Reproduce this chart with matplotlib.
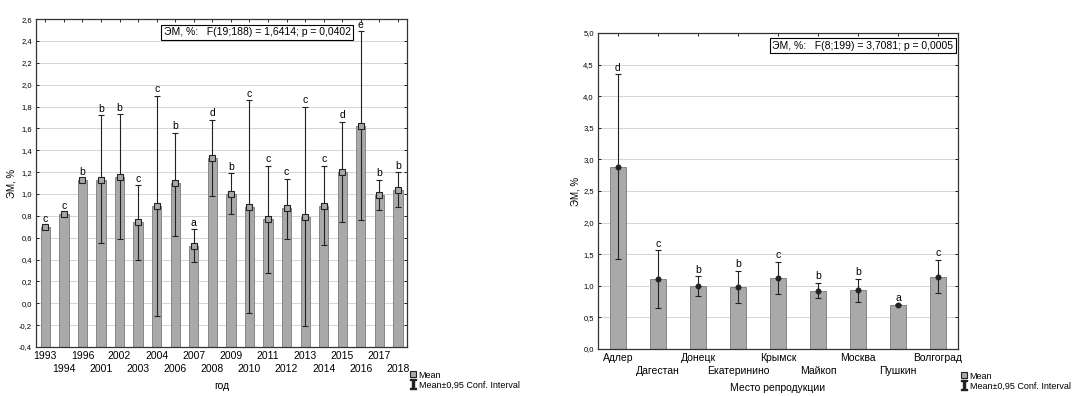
import numpy as np
import matplotlib
matplotlib.use('Agg')
import matplotlib.pyplot as plt
from matplotlib.lines import Line2D
from matplotlib.ticker import FuncFormatter

plt.rcParams['font.family'] = ['Liberation Sans Narrow', 'Liberation Sans', 'DejaVu Sans']

# left panel: by year
years = ['1993', '1994', '1996', '2001', '2002', '2003', '2004', '2006', '2007', '2008',
         '2009', '2010', '2011', '2012', '2013', '2014', '2015', '2016', '2017', '2018']
year_mean = [0.70, 0.82, 1.13, 1.13, 1.16, 0.74, 0.89, 1.10, 0.52, 1.33,
             1.00, 0.88, 0.77, 0.87, 0.79, 0.89, 1.20, 1.62, 0.99, 1.04]
year_lo = [0.69, 0.81, 1.12, 0.55, 0.59, 0.40, -0.12, 0.62, 0.38, 0.98,
           0.82, -0.09, 0.28, 0.59, -0.21, 0.53, 0.74, 0.76, 0.85, 0.88]
year_hi = [0.71, 0.83, 1.14, 1.72, 1.73, 1.08, 1.90, 1.56, 0.68, 1.68,
           1.19, 1.86, 1.26, 1.14, 1.80, 1.26, 1.66, 2.49, 1.13, 1.20]
year_grp = ['c', 'c', 'b', 'b', 'b', 'c', 'c', 'b', 'a', 'd',
            'b', 'c', 'c', 'c', 'c', 'c', 'd', 'e', 'b', 'b']

# right panel: by place
places = ['Адлер', 'Дагестан', 'Донецк', 'Екатеринино', 'Крымск',
          'Майкоп', 'Москва', 'Пушкин', 'Волгоград']
place_mean = [2.88, 1.10, 0.99, 0.98, 1.13, 0.92, 0.93, 0.70, 1.14]
place_lo = [1.42, 0.65, 0.84, 0.72, 0.87, 0.80, 0.75, 0.69, 0.89]
place_hi = [4.35, 1.56, 1.15, 1.24, 1.38, 1.05, 1.11, 0.71, 1.41]
place_grp = ['d', 'c', 'b', 'b', 'c', 'b', 'b', 'a', 'c']

bar_c = '#a9a9a9'
edge_c = '#7a7a7a'
comma = FuncFormatter(lambda v, p: ('%.1f' % v).replace('.', ','))


def panel(ax, cats, mean, lo, hi, grp, ylim, ystep, width, marker, ms, mfc, stat, box_x, xlabel):
    x = np.arange(len(cats))
    mean = np.array(mean)
    ax.bar(x, mean - ylim[0], bottom=ylim[0], width=width, color=bar_c,
           edgecolor=edge_c, linewidth=0.6, zorder=2)
    err = [mean - np.array(lo), np.array(hi) - mean]
    ax.errorbar(x, mean, yerr=err, fmt='none', ecolor='#222222', elinewidth=0.8,
                capsize=2, capthick=0.8, zorder=3)
    ax.plot(x, mean, ls='none', marker=marker, ms=ms, mfc=mfc, mec='#222222',
            mew=0.8, zorder=4)
    for xi, h, g in zip(x, hi, grp):
        ax.annotate(g, (xi, h), xytext=(0, 1), textcoords='offset points',
                    ha='center', va='bottom', fontsize=7.5)
    ax.set_xlim(-0.5, len(cats) - 0.5)
    ax.set_ylim(*ylim)
    ax.set_yticks(np.arange(ylim[0], ylim[1] + 1e-9, ystep))
    ax.yaxis.set_major_formatter(comma)
    # alternate rows of category labels
    ax.set_xticks(x[::2])
    ax.set_xticklabels(cats[::2], fontsize=7.5)
    ax.set_xticks(x[1::2], minor=True)
    ax.set_xticklabels(cats[1::2], minor=True, fontsize=7.5)
    ax.tick_params(axis='y', labelsize=5.5)
    ax.tick_params(which='both', direction='in', length=2.5, width=0.6,
                   top=True, right=True, pad=3)
    ax.tick_params(axis='x', which='minor', pad=12.5)
    ax.grid(axis='y', color='#d4d4d4', linewidth=0.7, zorder=0)
    ax.set_axisbelow(True)
    for s in ax.spines.values():
        s.set_linewidth(0.9)
        s.set_color('#333333')
    ax.set_xlabel(xlabel, fontsize=7.5, labelpad=5)
    ax.set_ylabel('ЭМ, %', fontsize=7, labelpad=2)
    ax.text(box_x, 0.96, stat, transform=ax.transAxes, ha='center', va='center',
            fontsize=7.5, bbox=dict(boxstyle='square,pad=0.25', fc='white', ec='black', lw=0.8))
    handles = [Line2D([], [], ls='none', marker='s', ms=4, mfc=bar_c, mec='#222222', mew=0.8),
               Line2D([], [], ls='none', marker=r'$\mathtt{I}$', ms=7, color='#222222')]
    return handles


fig = plt.figure(figsize=(10.79, 3.96), dpi=100)
ax1 = fig.add_axes([0.0334, 0.1237, 0.344, 0.828])
ax2 = fig.add_axes([0.5542, 0.1187, 0.3336, 0.798])

h1 = panel(ax1, years, year_mean, year_lo, year_hi, year_grp, (-0.4, 2.6), 0.2, 0.5,
           's', 4.5, bar_c, 'ЭМ, %:   F(19;188) = 1,6414; p = 0,0402', 0.596, 'год')
h2 = panel(ax2, places, place_mean, place_lo, place_hi, place_grp, (0.0, 5.0), 0.5, 0.4,
           'o', 3.5, '#222222', 'ЭМ, %:   F(8;199) = 3,7081; p = 0,0005', 0.736,
           'Место репродукции')

labels = ['Mean', 'Mean±0,95 Conf. Interval']
for h, xf, yf in [(h1, 406 / 1079, 1 - 366 / 396), (h2, 957 / 1079, 1 - 367 / 396)]:
    fig.legend(h, labels, loc='upper left', bbox_to_anchor=(xf, yf), frameon=False,
               fontsize=6.5, handlelength=0.6, handletextpad=0.3, borderpad=0,
               labelspacing=0.1)

fig.savefig('out.png', dpi=100)
